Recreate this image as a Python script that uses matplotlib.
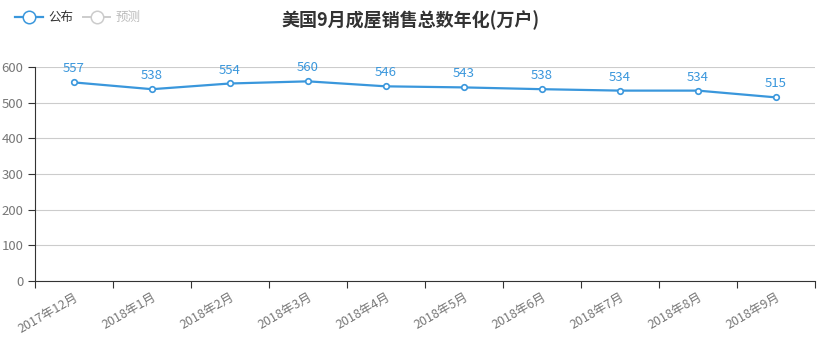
import matplotlib.pyplot as plt
import numpy as np

plt.rcParams['font.family'] = ['Noto Sans CJK SC', 'DejaVu Sans']

months = ['2017年12月', '2018年1月', '2018年2月', '2018年3月', '2018年4月',
          '2018年5月', '2018年6月', '2018年7月', '2018年8月', '2018年9月']
published = [557, 538, 554, 560, 546, 543, 538, 534, 534, 515]

blue = '#3a97dc'
grey = '#cccccc'

fig = plt.figure(figsize=(8.27, 3.44), dpi=100)
ax = fig.add_axes([0.0423, 0.183, 0.9432, 0.622])

x = np.arange(len(months))
line1, = ax.plot(x, published, color=blue, lw=1.6, marker='o', ms=4,
                 mfc='white', mec=blue, mew=1.2, label='公布', zorder=3)
line2, = ax.plot([], [], color=grey, lw=1.4, marker='o', ms=9,
                 mfc='white', mec=grey, mew=1.1, label='预测')

for xi, v in zip(x, published):
    ax.annotate(str(v), (xi, v), xytext=(0, 5), textcoords='offset points',
                ha='center', va='bottom', color=blue, fontsize=9.5)

ax.set_xlim(-0.5, len(months) - 0.5)
ax.set_ylim(0, 600)
ax.set_yticks(range(0, 601, 100))
ax.yaxis.grid(True, color='#cccccc', lw=0.8)
ax.set_axisbelow(True)

ax.set_xticks(np.arange(-0.5, len(months), 1))
ax.set_xticklabels([])
ax.set_xticks(x, minor=True)
ax.set_xticklabels(months, minor=True, rotation=30, ha='right',
                   rotation_mode='anchor', color='#777777', fontsize=9)
ax.tick_params(axis='x', which='minor', length=0, pad=7)
ax.tick_params(axis='x', which='major', length=5, color='#333333')
ax.tick_params(axis='y', length=5, color='#333333', labelcolor='#777777',
               labelsize=9.5)

for s in ['top', 'right']:
    ax.spines[s].set_visible(False)
ax.spines['left'].set_color('#333333')
ax.spines['bottom'].set_color('#333333')

fig.text(0.497, 0.94, '美国9月成屋销售总数年化(万户)', ha='center', va='center',
         fontsize=13, fontweight='bold', color='#333333')

leg = fig.legend(handles=[line1, line2], loc='upper left',
                 bbox_to_anchor=(0.005, 1.0), ncol=2, frameon=False,
                 fontsize=9, handlelength=2.2, columnspacing=0.8,
                 handletextpad=0.4)
leg.get_texts()[0].set_color('#333333')
leg.get_texts()[1].set_color('#bbbbbb')
leg.legend_handles[0].set_markersize(9)
leg.legend_handles[0].set_markeredgewidth(1.1)

fig.savefig('out.png', dpi=100)
